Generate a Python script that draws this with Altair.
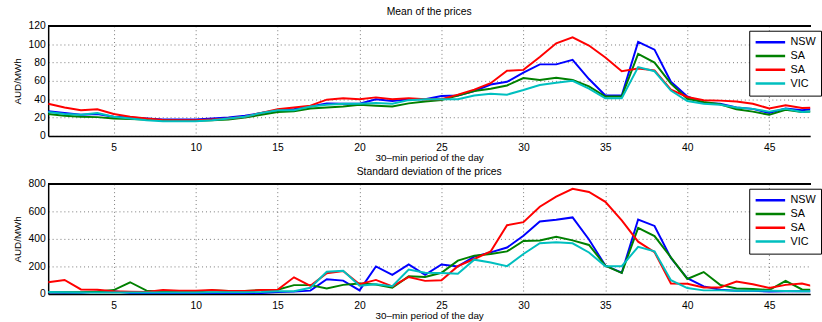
import altair as alt
import pandas as pd

# Half-hour trading periods of the day
periods = list(range(1, 49))

# Region keys (two South Australia series share the same legend label)
series_keys = ["NSW", "SA", "SA (2)", "VIC"]
series_colors = ["#0000ff", "#008000", "#ff0000", "#00bfbf"]

# Mean price per period, AUD/MWh
nsw_mean = [27, 25, 23, 24, 21, 20, 19, 18, 18, 18, 19, 20, 22, 25, 28, 29, 32, 35.5, 35, 35,
            40, 38, 40, 40, 43.5, 44, 49, 56, 59, 69, 78, 78, 83, 62, 44, 44, 102.5, 94, 59, 43,
            36, 35, 31, 29.5, 25, 30, 28, 30]
sa_mean = [24, 22, 21, 20.5, 19, 18.5, 18, 17, 16.5, 16.5, 17, 18, 20, 23, 26, 27, 30, 31, 32, 34,
           33, 32, 35.5, 37.5, 39, 44, 49, 51.5, 55, 63, 61, 63.5, 61, 54, 43, 43, 89.5, 80, 57, 40.5,
           37, 34.5, 29, 26.5, 23, 28.5, 26, 27]
sa2_mean = [35, 31, 28, 29, 24, 21, 19, 17.5, 17, 17, 18, 19, 21, 25, 29, 31, 33, 39.5, 41, 40,
            42, 40, 41, 40, 40, 45, 50.5, 57.5, 71, 72, 86, 101, 107.5, 98.5, 85.5, 70.5, 73.5, 71.5, 50.5, 42.5,
            39, 38.5, 37.5, 35, 30, 33.5, 30.5, 31]
vic_mean = [26, 24, 23, 25, 21, 19, 17, 16, 16, 16, 17, 19, 21, 25, 28, 28, 32, 34, 35, 35,
            36, 35, 39, 40, 40, 40, 44, 46, 45, 50, 55.5, 58, 60, 51.5, 41, 41, 75, 70.5, 49.5, 38,
            35, 34, 31, 29.5, 26.5, 29.5, 26, 27]

# Standard deviation of price per period, AUD/MWh
nsw_std = [10, 8, 8, 17, 19, 7, 7, 7, 7, 7, 7, 7, 7, 7, 14, 17, 24, 107, 97, 26,
           200, 138, 214, 138, 214, 200, 271, 302, 337, 423, 527, 539, 556, 396, 206, 154, 541, 494, 261, 114,
           55, 31, 24, 24, 17, 19, 19, 19]
sa_std = [12, 12, 12, 17, 28, 85, 24, 17, 17, 17, 26, 21, 21, 28, 31, 64, 64, 40, 66, 76,
          69, 45, 128, 123, 154, 242, 278, 290, 309, 385, 389, 415, 389, 356, 206, 152, 480, 420, 266, 109,
          159, 66, 40, 36, 28, 95, 33, 30]
sa2_std = [85, 102, 33, 31, 19, 17, 14, 28, 24, 24, 28, 21, 21, 28, 31, 121, 59, 150, 166, 71,
           102, 55, 123, 95, 100, 202, 254, 309, 499, 522, 634, 707, 764, 741, 669, 534, 380, 304, 76, 74,
           47, 47, 90, 71, 43, 66, 76, 45]
vic_std = [14, 12, 10, 10, 10, 10, 10, 10, 10, 10, 12, 12, 12, 14, 19, 19, 45, 161, 169, 59,
           71, 57, 178, 154, 152, 147, 249, 228, 202, 290, 368, 375, 368, 301, 202, 202, 342, 309, 100, 43,
           26, 26, 24, 24, 24, 22, 19, 19]

x_ticks = [5, 10, 15, 20, 25, 30, 35, 40, 45]
mean_ticks = [0, 20, 40, 60, 80, 100, 120]
std_ticks = [0, 200, 400, 600, 800]

FONT = "Liberation Sans"


def long_table(values_by_series):
    rows = []
    for key, vals in zip(series_keys, values_by_series):
        for p, v in zip(periods, vals):
            rows.append({"period": p, "value": v, "series": key})
    return pd.DataFrame(rows)


def panel(df, title, ymax, yticks, title_offset):
    y_scale = alt.Scale(domain=[0, ymax], nice=False)
    y_axis = alt.Axis(values=yticks, title="AUD/MWh")
    lines = alt.Chart(df).mark_line(strokeWidth=2, clip=True).encode(
        x=alt.X("period:Q",
                scale=alt.Scale(domain=[1, 47.5], nice=False, zero=False),
                axis=alt.Axis(values=x_ticks, title="30–min period of the day")),
        y=alt.Y("value:Q", scale=y_scale, axis=y_axis),
        color=alt.Color("series:N",
                        scale=alt.Scale(domain=series_keys, range=series_colors),
                        legend=alt.Legend(
                            title=None, orient="none", legendX=713, legendY=5,
                            fillColor="white", strokeColor="black", padding=5,
                            symbolType="stroke", symbolSize=900, symbolStrokeWidth=2.5,
                            labelFont=FONT, labelFontSize=11, labelColor="black",
                            labelOffset=4, rowPadding=0, clipHeight=13.5,
                            labelExpr="datum.label == 'SA (2)' ? 'SA' : datum.label")),
    )
    # top frame edge
    top_edge = alt.Chart(df).mark_rule(color="black", strokeWidth=1.5).encode(
        y=alt.YDatum(ymax, type="quantitative", scale=y_scale, axis=y_axis))
    return alt.layer(lines, top_edge).properties(
        width=775, height=112,
        title=alt.TitleParams(title, fontSize=10.5, font=FONT, fontWeight="normal",
                              color="black", offset=title_offset),
    )


mean_df = long_table([nsw_mean, sa_mean, sa2_mean, vic_mean])
std_df = long_table([nsw_std, sa_std, sa2_std, vic_std])

chart = alt.vconcat(
    panel(mean_df, "Mean of the prices", 120, mean_ticks, 3),
    panel(std_df, "Standard deviation of the prices", 800, std_ticks, 1.3),
    spacing=4.7,
).resolve_scale(color="independent").properties(
    padding={"left": 12, "top": 4.5, "right": 0, "bottom": 0}
).configure_view(stroke=None).configure_axis(
    labelFont=FONT, labelFontSize=10.5, labelColor="black", labelOverlap=False,
    titleFont=FONT, titleFontSize=10, titleFontWeight="normal", titleColor="black",
    domainColor="black", domainWidth=1.5,
    grid=True, gridColor="#555555", gridDash=[1, 3], gridWidth=0.8, gridOpacity=1,
    ticks=False, tickSize=0,
).configure_axisX(labelPadding=6.5, titlePadding=0).configure_axisY(
    labelPadding=3, titlePadding=6)

chart.save("out.html", embed_options={"renderer": "svg", "actions": False})
